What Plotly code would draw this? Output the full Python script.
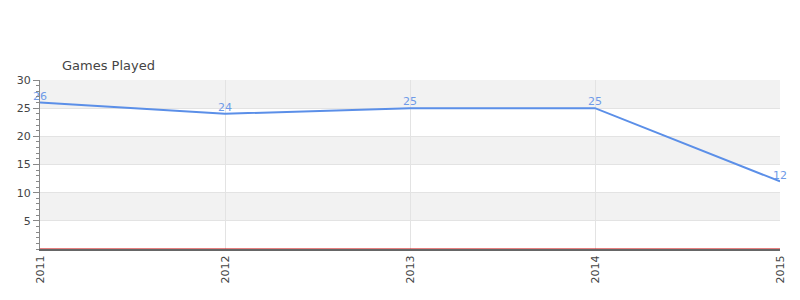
import plotly.graph_objects as go

years = [2011, 2012, 2013, 2014, 2015]
year_labels = ["2011", "2012", "2013", "2014", "2015"]
games_played = [26, 24, 25, 25, 12]
y_ticks = [5, 10, 15, 20, 25, 30]
bands = [(25, 30), (15, 20), (5, 10)]

fig = go.Figure()
fig.add_trace(go.Scatter(
    x=years, y=games_played, mode="lines+text",
    text=[str(v) for v in games_played], textposition="top center",
    textfont=dict(color="#6f9be8", size=11, family="DejaVu Sans"),
    line=dict(color="#5b8fe8", width=2), cliponaxis=False, showlegend=False,
    hoverinfo="x+y",
))

shapes = []
for lo, hi in bands:
    shapes.append(dict(type="rect", xref="paper", yref="y", x0=0, x1=1, y0=lo, y1=hi,
                       fillcolor="#f2f2f2", line=dict(width=0), layer="below"))
shapes.append(dict(type="line", xref="paper", yref="y", x0=0, x1=1, y0=0, y1=0,
                   line=dict(color="#cc0000", width=1), layer="above"))
fig.update_layout(shapes=shapes)

fig.update_layout(
    width=800, height=300,
    margin=dict(l=40, r=20, t=80, b=51),
    paper_bgcolor="white", plot_bgcolor="white",
    font=dict(family="DejaVu Sans", size=11, color="#444"),
    annotations=[dict(text="Games Played", xref="paper", yref="paper", x=(60-40)/740, y=1.0,
                      yshift=5, xanchor="left", yanchor="bottom", showarrow=False,
                      font=dict(size=13, color="#444", family="DejaVu Sans"))],
)
fig.update_xaxes(
    range=[2011, 2015], tickvals=years, ticktext=year_labels, tickangle=-90,
    showgrid=True, gridcolor="#e3e3e3", zeroline=False,
    showline=True, linecolor="#666", linewidth=2, ticks="", tickfont=dict(size=11, color="#444"),
)
fig.update_yaxes(
    range=[0, 30], tickvals=y_ticks, showgrid=True, gridcolor="#e3e3e3", zeroline=False,
    showline=True, linecolor="#888", linewidth=1, ticks="outside", ticklen=6, tickcolor="#888",
    minor=dict(ticks="outside", dtick=1, ticklen=3, tickcolor="#888", showgrid=False),
    tickfont=dict(size=11, color="#444"),
)

fig.write_html("out.html")
